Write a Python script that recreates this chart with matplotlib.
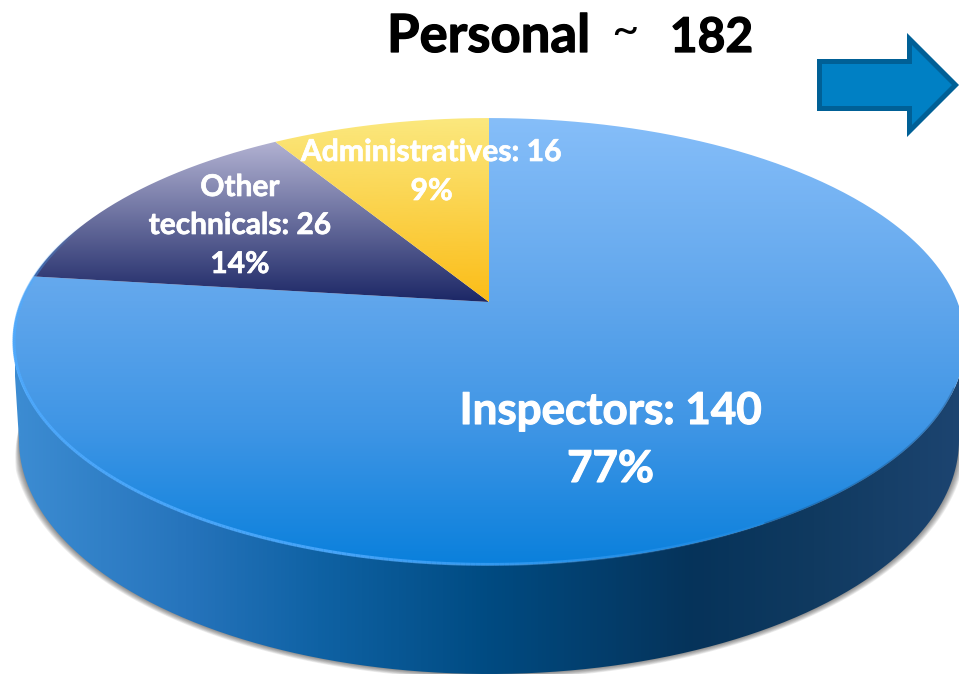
import numpy as np
import matplotlib
matplotlib.use("Agg")
import matplotlib.pyplot as plt
import matplotlib.patheffects as pe
from matplotlib.colors import LinearSegmentedColormap as LSC
from matplotlib.patches import Polygon
from matplotlib.path import Path
from matplotlib.collections import LineCollection

# data
categories = ["Inspectors", "Other\ntechnicals", "Administratives"]
values = [140, 26, 16]
percents = ["77%", "14%", "9%"]
title_word = "Personal"
title_total = "182"

plt.rcParams["font.family"] = ["Lato", "DejaVu Sans"]
fig = plt.figure(figsize=(9.59, 6.74), dpi=100)
ax = fig.add_axes([0, 0, 1, 1])
ax.set_xlim(0, 959)
ax.set_ylim(674, 0)
ax.axis("off")

# perspective projection of the disc
CX, CY = 489.0, 302.0
A, B, K = 468.5, 216.5, 0.177


def project(t, r=1.0):
    u, v = r * np.sin(t), r * np.cos(t)
    w = 1 + K * v
    return CX + A * u / w, CY - B * v / w


def gradient(verts, colors, y0=None, y1=None, horizontal=False, x0=0, x1=959, z=2):
    cmap = LSC.from_list("g", colors)
    g = np.linspace(0, 1, 256)
    if horizontal:
        im = ax.imshow(g[None, :], cmap=cmap, extent=[x0, x1, 674, 0], aspect="auto", zorder=z,
                       interpolation="bilinear", vmin=0, vmax=1)
    else:
        im = ax.imshow(g[:, None], cmap=cmap, extent=[0, 959, y1, y0], aspect="auto", zorder=z,
                       interpolation="bilinear", vmin=0, vmax=1, origin="upper")
    closed = np.vstack([verts, verts[:1]])
    im.set_clip_path(Path(closed), transform=ax.transData)
    return im


# side wall and shadow
tt = np.linspace(0, 2 * np.pi, 720)
BX, BY, BRX, BRY = 489.0, 440.0, 470.0, 234.0
ex, ey = project(tt)
low = ey > 350
order = np.argsort(ex[low])
top_lo_x, top_lo_y = ex[low][order], ey[low][order]
ph = np.linspace(np.pi, 0, 300)
bot_x, bot_y = BX + BRX * np.cos(ph), BY + BRY * np.sin(ph)
side_pts = np.vstack([np.column_stack([top_lo_x, top_lo_y]), np.column_stack([bot_x[::-1], bot_y[::-1]])])

# soft shadow: grows from nothing at the rim's top to full size at the lower wall
ph_s = np.linspace(np.pi * 1.07, -np.pi * 0.07, 400)
taper = np.clip(np.sin(ph_s) / 0.2 + 0.35, 0, 1)
for grow in np.linspace(7, 0.5, 8):
    g_s = grow * taper
    sx = BX + (BRX + g_s) * np.cos(ph_s)
    sy = BY + (BRY + g_s * 0.7) * np.sin(ph_s)
    ax.add_patch(Polygon(np.column_stack([sx, sy]), closed=True, fc="#303030", ec="none", alpha=0.085, zorder=1))

gradient(side_pts, [(0, "#3C8CD2"), (0.18, "#2674BC"), (0.32, "#0F62A4"), (0.5, "#004B82"),
                    (0.72, "#06335A"), (0.85, "#103A60"), (1, "#1C4470")],
         horizontal=True, x0=15, x1=959, z=2)

# top slices
fr = np.cumsum([0] + values) / sum(values) * 2 * np.pi
styles = [
    [(0, "#86BEF9"), (0.41, "#60A6EC"), (0.7, "#3E95E5"), (1, "#0A80DC")],
    ["#B2B2D2", "#1C2766"],
    ["#FBE87E", "#FBBD18"],
]
for i in range(len(values)):
    t = np.linspace(fr[i], fr[i + 1], 400)
    x, y = project(t)
    verts = np.vstack([[CX, CY], np.column_stack([x, y])])
    y0 = verts[:, 1].min()
    y1 = verts[:, 1].max()
    gradient(verts, styles[i], y0=y0, y1=y1, z=3)

# bevel highlight on the front rim
ht = np.radians(np.linspace(145, 292, 300))
hx, hy = project(ht, 0.998)
pts = np.column_stack([hx, hy])
segs = np.stack([pts[:-1], pts[1:]], axis=1)
mid = np.degrees(ht[:-1])
al = np.clip(np.minimum((mid - 145) / 50, (292 - mid) / 30), 0, 1) * 0.85
cols = np.tile(matplotlib.colors.to_rgba("#4FABFF"), (len(al), 1))
cols[:, 3] = al
ax.add_collection(LineCollection(segs, colors=cols, linewidths=2.2, zorder=4))

# soft dark right rim
ht2 = np.radians(np.linspace(112, 150, 120))
hx, hy = project(ht2, 0.999)
ax.plot(hx, hy, color="#16406C", alpha=0.3, lw=1.5, zorder=4)

# arrow
arrow = [(819.5, 61.5), (909.5, 61.5), (909.5, 39), (955.5, 85), (909.5, 131), (909.5, 108.5), (819.5, 108.5)]
ax.add_patch(Polygon(arrow, closed=True, fc="#0080C4", ec="#006096", lw=3.6, joinstyle="miter", zorder=5))


# text
def label(x, y, s, size, color="white", heavy=0.5, weight="bold"):
    tx = ax.text(x, y, s, fontsize=size, fontweight=weight, color=color, ha="center", va="baseline", zorder=6)
    if heavy:
        tx.set_path_effects([pe.withStroke(linewidth=heavy, foreground=color)])


label(488.5, 52, title_word, 37.9, "black", 0.9)
label(625, 45, "~", 34, "black", 0, "normal")
label(711.5, 52, title_total, 34.5, "black", 0.9)

label(610.5, 424, f"{categories[0]}: {values[0]}", 31.6, heavy=0.8)
label(610.5, 482, percents[0], 31.6, heavy=0.8)

first, second = categories[1].split("\n")
label(240, 196, first, 21.5)
label(240, 234, f"{second}: {values[1]}", 21.5)
label(240, 273, percents[1], 21.5)

label(431.5, 161, f"{categories[2]}: {values[2]}", 21.7)
label(431.5, 200, percents[2], 21.7)

ax.set_xlim(0, 959)
ax.set_ylim(674, 0)
fig.savefig("out.png", dpi=100, facecolor="white")
